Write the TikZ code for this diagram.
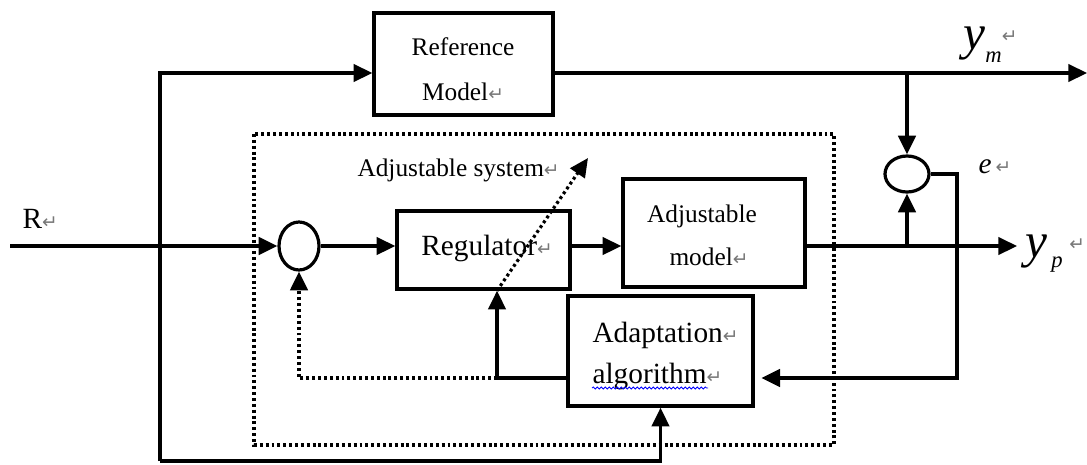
\documentclass[tikz,border=0pt]{standalone}
\usepackage{fontspec}
\setmainfont{Liberation Serif}
\newfontfamily\retfont{DejaVu Sans}
\usepackage{tikz}
\usetikzlibrary{calc}
\usetikzlibrary{arrows.meta}
\usetikzlibrary{shapes.geometric}
\usetikzlibrary{decorations.pathmorphing}
\definecolor{retgray}{RGB}{120,120,120}
\newcommand\fsz[1]{\fontsize{#1}{#1}\selectfont}
\newcommand\retmark{{\retfont\fsz{14}\color{retgray}↵}}
\tikzset{every picture/.style={line width=0.75pt}}
\tikzset{
  blk/.style={draw, line width=2.6pt, inner sep=0pt},
  junc/.style={draw, ellipse, line width=2.4pt, inner sep=0pt},
  sig/.style={line width=2.6pt, -{Triangle[length=14pt,width=13pt]}},
  dotwire/.style={line width=2.4pt, dash pattern={on 2.2pt off 2.2pt}},
  dotsig/.style={dotwire, -{Triangle[length=14pt,width=13pt]}},
  lbl/.style={inner sep=0pt, anchor=base},
}

\begin{document}
\begin{tikzpicture}[x=0.75pt,y=0.75pt,yscale=-1,xscale=1]
\useasboundingbox (0,0) rectangle (1087,464);

%Shape: Dotted frame of the adjustable system
\draw [dotwire] (254,134) rectangle (834,445);

%Shape: Blocks
\node [blk, minimum width=134.25pt, minimum height=76.5pt] (refmodel) at (463.5,64) {};
\node [blk, minimum width=129.75pt, minimum height=58.5pt] (regulator) at (483.5,250) {};
\node [blk, minimum width=136.5pt, minimum height=81pt] (adjmodel) at (714,233) {};
\node [blk, minimum width=138.75pt, minimum height=82.5pt] (adapt) at (660.5,351) {};
%Shape: Summing junctions
\node [junc, minimum width=30pt, minimum height=36pt] (sumL) at (299,246) {};
\node [junc, minimum width=33pt, minimum height=27pt] (sumE) at (907,174) {};

%Free ends and bends
\coordinate (rin) at (10,246);
\coordinate (corner) at (160,461);
\coordinate (ymend) at (1087,73);
\coordinate (ypend) at (1017,246);
\coordinate (efold) at (957,378);
\coordinate (fbsplit) at (497,378);
\coordinate (adjtip) at (588,158);

%Straight Lines: reference branch
\draw [sig] (rin) -- (sumL.west);
\draw [sig] (corner) |- ($(refmodel.west)+(0,9)$);
\draw [sig] (corner) -| (adapt.south);
\draw [sig] ($(refmodel.east)+(0,9)$) -- (ymend);
\draw [sig] (sumE.north |- ymend) -- (sumE.north);
%Straight Lines: forward path
\draw [sig] (sumL.east) -- (sumL.east -| regulator.west);
\draw [sig] (regulator.east |- sumL) -- (sumL -| adjmodel.west);
\draw [sig] (adjmodel.east |- sumL) -- (ypend);
\draw [sig] (sumE.south |- sumL) -- (sumE.south);
%Straight Lines: error to adaptation
\draw [sig] (sumE.east) -| (efold) -- ([xshift=5pt]adapt.east |- efold);
%Straight Lines: adaptation outputs
\draw [dotsig] (fbsplit) -| (sumL.south);
\draw [sig] (adapt.west |- fbsplit) -- (fbsplit) -- (fbsplit |- regulator.south);
\draw [dotsig] (fbsplit |- regulator.south) -- (adjtip);

% Text Node
\node [lbl] (txtref) at (463,55) {\fsz{19}Reference};
% Text Node
\node [lbl] (txtmodel) at (463,100) {\fsz{19}Model\retmark};
% Text Node
\node [lbl] (txtreg) at (487,255) {\fsz{22}Regulator\retmark};
% Text Node
\node [lbl] (txtadj) at (702,222) {\fsz{19}Adjustable};
% Text Node
\node [lbl] (txtadjm) at (709,265) {\fsz{19}model\retmark};
% Text Node
\node [lbl, anchor=base west] (txtadapt) at (592,342) {\fsz{22}Adaptation\retmark};
% Text Node
\node [lbl, anchor=base west] (txtalgo) at (592,383) {\fsz{22}algorithm\retmark};
% Text Node
\node [lbl, anchor=base west] (txtsys) at (357,176) {\fsz{19}Adjustable system\retmark};
% Text Node
\node [lbl, anchor=base west] (txtR) at (22,228) {\fsz{22}R\retmark};
% Text Node
\node [lbl, anchor=base west] (txte) at (978,173) {\fsz{22}\itshape e\hspace{3pt}\retmark};
% Text Node
\node [lbl, anchor=base west] (txtym) at (963,49) {\fsz{37}\itshape y\raisebox{-9.75pt}{\fsz{17}m}\raisebox{5pt}{\retmark}};
% Text Node
\node [lbl, anchor=base west] (txtyp) at (1025,257) {\fsz{37}\itshape y\hspace{3pt}\raisebox{-7.5pt}{\fsz{17}p}\hspace{5pt}\raisebox{5pt}{\retmark}};

%Curve Lines: spelling mark
\draw [blue, line width=0.6pt, decorate, decoration={snake, amplitude=0.8pt, segment length=3pt}] ($(txtalgo.base west)+(0,5)$) -- ($(txtalgo.base west)+(116,5)$);
\end{tikzpicture}
\end{document}
